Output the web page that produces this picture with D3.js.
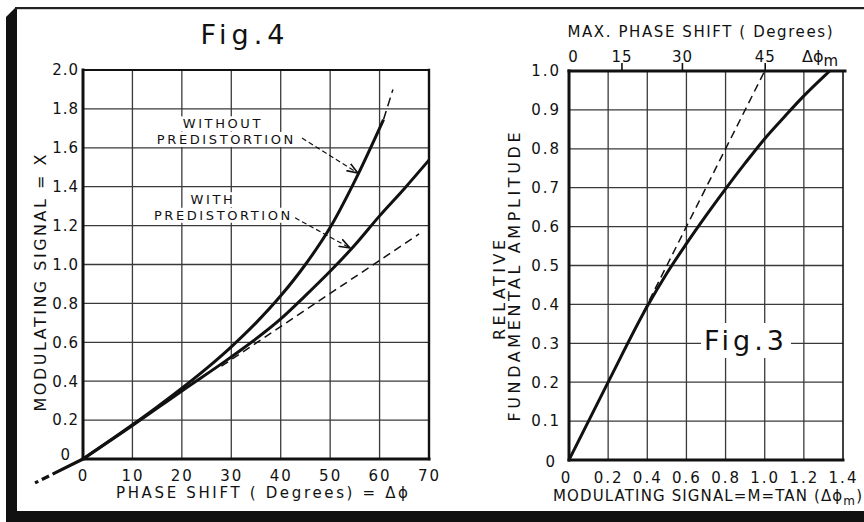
<!DOCTYPE html>
<html>
<head>
<meta charset="utf-8">
<script src="https://cdn.jsdelivr.net/npm/d3@7"></script>
<style>
  body { margin: 0; background: #fff; }
  svg text { font-family: "DejaVu Sans", sans-serif; fill: #111; }
  .tick text { font-size: 15px; letter-spacing: 1px; }
</style>
</head>
<body>
<svg id="chart" width="864" height="522"></svg>
<script>
/* Fig. 4 data: phase shift (degrees) vs modulating signal X */
const phaseTicks = [0, 10, 20, 30, 40, 50, 60, 70]
const signalTicks = [0, 0.2, 0.4, 0.6, 0.8, 1.0, 1.2, 1.4, 1.6, 1.8, 2.0]
const withoutDeg = [0, 5, 10, 15, 20, 25, 30, 35, 40, 45, 50, 55, 60.8]
const withoutX = [0, 0.087, 0.176, 0.268, 0.364, 0.466, 0.577, 0.70, 0.839, 1.0, 1.19, 1.43, 1.745]
const withoutTailDeg = [60.8, 62.7]
const withoutTailX = [1.745, 1.90]
const withDeg = [0, 10, 20, 30, 40, 45, 50, 55, 60, 65, 70]
const withX = [0, 0.172, 0.35, 0.525, 0.72, 0.84, 0.965, 1.10, 1.25, 1.39, 1.537]
const linearDeg = [28, 68]
const linearX = [0.477, 1.157]
const negTailDeg = [0, -9.7]
const negTailX = [0, -0.123]

/* Fig. 3 data: modulating signal M vs relative fundamental amplitude */
const mTicks = [0, 0.2, 0.4, 0.6, 0.8, 1.0, 1.2, 1.4]
const ampTicks = [0, 0.1, 0.2, 0.3, 0.4, 0.5, 0.6, 0.7, 0.8, 0.9, 1.0]
const maxPhaseLabels = ["0", "15", "30", "45"]
const maxPhaseAtM = [0, 0.268, 0.577, 1.0]
const ampM = [0, 0.2, 0.4, 0.5, 0.6, 0.7, 0.8, 0.9, 1.0, 1.1, 1.2, 1.3, 1.332]
const ampA = [0, 0.2, 0.395, 0.48, 0.556, 0.628, 0.697, 0.763, 0.826, 0.882, 0.936, 0.985, 1.0]
const idealM = [0.38, 1.0]
const idealA = [0.38, 1.0]

const zip = (a, b) => a.map((v, i) => [v, b[i]])

const svg = d3.select("#chart")
svg.append("rect").attr("width", 864).attr("height", 522).attr("fill", "#fff")

/* page frame */
svg.append("path").attr("d", "M6,17 L15,8 L17,8 L17,522 L6,522 Z").attr("fill", "#111")
svg.append("rect").attr("x", 15).attr("y", 7).attr("width", 849).attr("height", 2.2).attr("fill", "#222")
svg.append("rect").attr("x", 6).attr("y", 511).attr("width", 858).attr("height", 11).attr("fill", "#111")

const defs = svg.append("defs")
defs.append("marker").attr("id", "arrow")
    .attr("viewBox", "0 0 12 10").attr("refX", 11).attr("refY", 5)
    .attr("markerWidth", 12).attr("markerHeight", 10).attr("markerUnits", "userSpaceOnUse")
    .attr("orient", "auto")
  .append("path").attr("d", "M0,1 L11,5 L0,9").attr("fill", "none")
    .attr("stroke", "#111").attr("stroke-width", 1.6)

/* helpers */
const drawGrid = (g, xs, ys, xt, yt) => {
  const [yb, yt0] = ys.range()
  const [xl, xr] = xs.range()
  g.selectAll(".vgrid").data(xt).join("line")
    .attr("x1", d => xs(d)).attr("x2", d => xs(d)).attr("y1", yb).attr("y2", yt0)
    .attr("stroke", "#3a3a3a").attr("stroke-width", 1.3)
  g.selectAll(".hgrid").data(yt).join("line")
    .attr("x1", xl).attr("x2", xr).attr("y1", d => ys(d)).attr("y2", d => ys(d))
    .attr("stroke", "#3a3a3a").attr("stroke-width", 1.3)
}
const edge = (g, x1, y1, x2, y2, w) => g.append("line")
  .attr("x1", x1).attr("y1", y1).attr("x2", x2).attr("y2", y2)
  .attr("stroke", "#111").attr("stroke-width", w).attr("stroke-linecap", "square")
const textBg = (sel, padX, padY) => {
  sel.each(function () {
    const b = this.getBBox()
    d3.select(this.parentNode).insert("rect", () => this)
      .attr("x", b.x - padX).attr("y", b.y - padY)
      .attr("width", b.width + 2 * padX).attr("height", b.height + 2 * padY)
      .attr("fill", "#fff")
  })
}

/* ---------- Fig. 4 ---------- */
const x4 = d3.scaleLinear().domain([0, 70]).range([83, 429])
const y4 = d3.scaleLinear().domain([0, 2]).range([459, 70])
const f4 = svg.append("g")
drawGrid(f4, x4, y4, phaseTicks.slice(1, -1), signalTicks.slice(1, -1))

const line4 = d3.line().x(d => x4(d[0])).y(d => y4(d[1])).curve(d3.curveMonotoneX)
const line4s = d3.line().x(d => x4(d[0])).y(d => y4(d[1]))

/* annotations with white backing */
const ann = f4.append("g")
const annText = [
  {t: "WITHOUT", x: 28.3, y: 1.70},
  {t: "PREDISTORTION", x: 29.0, y: 1.62},
  {t: "WITH", x: 26.3, y: 1.31},
  {t: "PREDISTORTION", x: 28.4, y: 1.23}
]
ann.selectAll("text").data(annText).join("text")
  .attr("x", d => x4(d.x)).attr("y", d => y4(d.y))
  .attr("text-anchor", "middle").attr("font-size", 13).attr("letter-spacing", 2.6)
  .text(d => d.t)
textBg(ann.selectAll("text"), 2, 0)

f4.append("path").datum(zip(linearDeg, linearX)).attr("d", line4s)
  .attr("fill", "none").attr("stroke", "#111").attr("stroke-width", 1.5).attr("stroke-dasharray", "8,5")
f4.append("path").datum(zip(withDeg, withX)).attr("d", line4)
  .attr("fill", "none").attr("stroke", "#111").attr("stroke-width", 3)
f4.append("path").datum(zip(withoutDeg, withoutX)).attr("d", line4)
  .attr("fill", "none").attr("stroke", "#111").attr("stroke-width", 3)
f4.append("path").datum(zip(withoutTailDeg, withoutTailX)).attr("d", line4s)
  .attr("fill", "none").attr("stroke", "#111").attr("stroke-width", 1.5).attr("stroke-dasharray", "9,5")
f4.append("path").datum(zip(negTailDeg, negTailX)).attr("d", line4s)
  .attr("fill", "none").attr("stroke", "#111").attr("stroke-width", 3.2).attr("stroke-dasharray", "34,4,8,4,6")

/* leader arrows */
const arrows4 = [
  {from: [44.3, 1.65], to: [55.6, 1.47]},
  {from: [42.9, 1.24], to: [54.0, 1.085]}
]
f4.selectAll(".lead").data(arrows4).join("line")
  .attr("x1", d => x4(d.from[0])).attr("y1", d => y4(d.from[1]))
  .attr("x2", d => x4(d.to[0])).attr("y2", d => y4(d.to[1]))
  .attr("stroke", "#111").attr("stroke-width", 1.2).attr("stroke-dasharray", "5,3")
  .attr("marker-end", "url(#arrow)")

/* frame of the plot */
edge(f4, 83, 70, 429, 70, 2)
edge(f4, 429, 70, 429, 459, 2.4)
edge(f4, 83, 70, 83, 459, 3)
edge(f4, 83, 459, 429, 459, 3)

/* tick labels */
const fmt4 = d => d === 0 ? "0" : d3.format(".1f")(d)
const ax4y = f4.append("g").attr("transform", "translate(83,0)")
  .call(d3.axisLeft(y4).tickValues(signalTicks).tickSize(0).tickPadding(4).tickFormat(fmt4))
ax4y.select(".domain").remove()
ax4y.selectAll(".tick").filter(d => d === 0).select("text").attr("dx", -8).attr("dy", "0.05em")
const ax4x = f4.append("g").attr("transform", "translate(0,459)")
  .call(d3.axisBottom(x4).tickValues(phaseTicks).tickSize(0).tickPadding(11))
ax4x.select(".domain").remove()
ax4x.selectAll(".tick text").style("letter-spacing", "2px")

f4.append("text").attr("x", 245).attr("y", 44).attr("text-anchor", "middle")
  .attr("font-size", 27).attr("letter-spacing", 5).text("Fig.4")
f4.append("text").attr("transform", "translate(46,283) rotate(-90)")
  .attr("text-anchor", "middle").attr("font-size", 16)
  .attr("textLength", 257).attr("lengthAdjust", "spacing")
  .text("MODULATING SIGNAL = X")
f4.append("text").attr("x", 262).attr("y", 498).attr("text-anchor", "middle")
  .attr("font-size", 15).attr("textLength", 292).attr("lengthAdjust", "spacing")
  .text("PHASE SHIFT ( Degrees) = Δϕ")

/* ---------- Fig. 3 ---------- */
const x3 = d3.scaleLinear().domain([0, 1.4]).range([569, 843])
const y3 = d3.scaleLinear().domain([0, 1]).range([460, 71])
const f3 = svg.append("g")
drawGrid(f3, x3, y3, mTicks.slice(1, -1), ampTicks.slice(1, -1))

const fig3 = f3.append("text").attr("x", 746).attr("y", 350).attr("text-anchor", "middle")
  .attr("font-size", 27).attr("letter-spacing", 4).text("Fig.3")
textBg(fig3, 3, 2)

const line3 = d3.line().x(d => x3(d[0])).y(d => y3(d[1])).curve(d3.curveMonotoneX)
f3.append("path").datum(zip(idealM, idealA)).attr("d", line3)
  .attr("fill", "none").attr("stroke", "#111").attr("stroke-width", 1.5).attr("stroke-dasharray", "8,5")
f3.append("path").datum(zip(ampM, ampA)).attr("d", line3)
  .attr("fill", "none").attr("stroke", "#111").attr("stroke-width", 3)

edge(f3, 569, 71, 845, 71, 3)
edge(f3, 843, 71, 843, 460, 1.6)
edge(f3, 569, 71, 569, 460, 3)
edge(f3, 569, 460, 843, 460, 3)

const fmt3 = d => d === 0 ? "0" : d3.format(".1f")(d)
const ax3y = f3.append("g").attr("transform", "translate(569,0)")
  .call(d3.axisLeft(y3).tickValues(ampTicks).tickSize(0).tickPadding(8).tickFormat(fmt3))
ax3y.select(".domain").remove()
ax3y.selectAll(".tick text").style("letter-spacing", "2px")
ax3y.selectAll(".tick").filter(d => d === 0).select("text").attr("dx", -4).attr("dy", "0.45em")
const ax3x = f3.append("g").attr("transform", "translate(0,460)")
  .call(d3.axisBottom(x3).tickValues(mTicks).tickSize(0).tickPadding(12).tickFormat(fmt3))
ax3x.select(".domain").remove()
ax3x.selectAll(".tick text").style("letter-spacing", "2px")
ax3x.selectAll(".tick").filter(d => d === 0).select("text").attr("dx", -3)
const ax3t = f3.append("g").attr("transform", "translate(0,71)")
  .call(d3.axisTop(x3).tickValues(maxPhaseAtM).tickSize(8).tickPadding(1)
    .tickFormat((d, i) => maxPhaseLabels[i]))
ax3t.select(".domain").remove()
ax3t.selectAll(".tick line").attr("stroke", "#111").attr("stroke-width", 1.6)
ax3t.selectAll(".tick").filter(d => d === 0).select("line").remove()
ax3t.selectAll(".tick").filter(d => d === 0).select("text").attr("dx", 4)

const dm = f3.append("text").attr("x", 802).attr("y", 62).attr("font-size", 16)
dm.append("tspan").text("Δϕ")
dm.append("tspan").attr("dy", 4).attr("font-size", 15).text("m")

f3.append("text").attr("x", 700).attr("y", 37).attr("text-anchor", "middle")
  .attr("font-size", 15).attr("textLength", 265).attr("lengthAdjust", "spacing")
  .text("MAX. PHASE SHIFT ( Degrees)")
f3.append("text").attr("transform", "translate(505,290) rotate(-90)")
  .attr("text-anchor", "middle").attr("font-size", 16)
  .attr("textLength", 100).attr("lengthAdjust", "spacing").text("RELATIVE")
f3.append("text").attr("transform", "translate(520,277) rotate(-90)")
  .attr("text-anchor", "middle").attr("font-size", 16)
  .attr("textLength", 289).attr("lengthAdjust", "spacing").text("FUNDAMENTAL AMPLITUDE")
const xt3 = f3.append("text").attr("x", 553).attr("y", 501).attr("font-size", 15)
  .attr("textLength", 309).attr("lengthAdjust", "spacing")
xt3.append("tspan").text("MODULATING SIGNAL=M=TAN (Δϕ")
xt3.append("tspan").attr("dy", 4).attr("font-size", 12).text("m")
xt3.append("tspan").attr("dy", -4).text(")")
</script>
</body>
</html>
